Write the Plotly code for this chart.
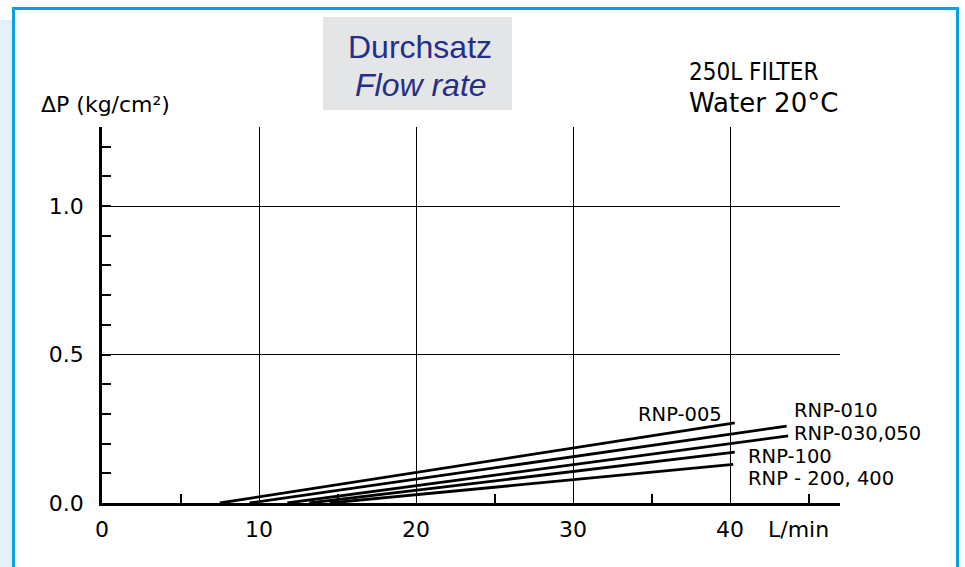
import plotly.graph_objects as go

# ---- data ----
series_names = ["RNP-005", "RNP-010", "RNP-030,050", "RNP-100", "RNP - 200, 400"]
x_start = [7.5, 9.4, 11.8, 13.2, 14.5]
x_end = [40.3, 43.6, 43.7, 40.3, 40.2]
y_start = [0.0, 0.0, 0.0, 0.0, 0.0]
y_end = [0.27, 0.259, 0.226, 0.171, 0.13]

x_ticks = [0, 10, 20, 30, 40]
x_minor = [5, 15, 25, 35, 45]
y_ticks = [0.0, 0.5, 1.0]
y_tick_labels = ["0.0", "0.5", "1.0"]
y_minor = [round(0.1 * i, 1) for i in range(1, 13)]

W, H = 965, 567
L, R, T, B = 102, 125, 127, 64
FONT = "DejaVu Sans"


def px(x):
    return (x - L) / (W - L - R)


def py(y):
    return (H - B - y) / (H - T - B)


fig = go.Figure()
for name, xs, xe, ys, ye in zip(series_names, x_start, x_end, y_start, y_end):
    fig.add_trace(go.Scatter(x=[xs, xe], y=[ys, ye], mode="lines", name=name,
                             line=dict(color="black", width=2.8),
                             showlegend=False, hoverinfo="skip"))

fig.update_layout(
    width=W, height=H,
    margin=dict(l=L, r=R, t=T, b=B),
    paper_bgcolor="white", plot_bgcolor="white",
    font=dict(family=FONT, size=22, color="black"),
    showlegend=False,
)

fig.update_xaxes(
    range=[0, 47], tickvals=x_ticks, ticktext=[str(v) for v in x_ticks],
    showline=True, linecolor="black", linewidth=2.5,
    showgrid=True, gridcolor="black", gridwidth=1,
    ticks="", zeroline=False, ticklabelstandoff=5,
    tickfont=dict(family=FONT, size=22, color="black"),
    minor=dict(tickvals=x_minor, ticks="inside", ticklen=9, tickwidth=2,
               tickcolor="black", showgrid=False),
)
fig.update_yaxes(
    range=[0, 1.266], tickvals=y_ticks, ticktext=y_tick_labels,
    showline=True, linecolor="black", linewidth=2.5,
    showgrid=True, gridcolor="black", gridwidth=1,
    ticks="", zeroline=False, ticklabelstandoff=11,
    tickfont=dict(family=FONT, size=22, color="black"),
    minor=dict(tickvals=y_minor, ticks="inside", ticklen=9, tickwidth=2,
               tickcolor="black", showgrid=False),
)

# ---- frame / decoration ----
blue = "#0aa0e2"
shapes = [
    dict(type="rect", xref="paper", yref="paper", x0=px(0), x1=px(12), y0=py(567), y1=py(20),
         fillcolor="#e2f1fa", line=dict(width=0), layer="below"),
    dict(type="line", xref="paper", yref="paper", x0=px(12), x1=px(958), y0=py(8.5), y1=py(8.5),
         line=dict(color=blue, width=3)),
    dict(type="line", xref="paper", yref="paper", x0=px(13.5), x1=px(13.5), y0=py(7), y1=py(567),
         line=dict(color=blue, width=3)),
    dict(type="line", xref="paper", yref="paper", x0=px(957.5), x1=px(957.5), y0=py(7), y1=py(567),
         line=dict(color=blue, width=3)),
    dict(type="rect", xref="paper", yref="paper", x0=px(323), x1=px(512), y0=py(110), y1=py(17),
         fillcolor="#e4e5e7", line=dict(width=0), layer="below"),
]
fig.update_layout(shapes=shapes)


def ann(text, x, y, size=21, anchor="left", family=FONT, color="black"):
    fig.add_annotation(text=text, xref="paper", yref="paper", x=px(x), y=py(y),
                       xanchor=anchor, yanchor="middle", showarrow=False,
                       font=dict(family=family, size=size, color=color))


ann("ΔP (kg/cm²)", 39, 105, size=22)
ann("L/min", 798, 529, size=22, anchor="center")
ann("Durchsatz", 420, 47, size=32, anchor="center", family="Liberation Sans", color="#252f86")
ann("<i>Flow rate</i>", 421, 85, size=32, anchor="center", family="Liberation Sans", color="#252f86")
ann("250L FILTER", 687, 72, size=24, family="Liberation Sans Narrow, DejaVu Sans Condensed, Liberation Sans")
ann("Water 20°C", 687, 103, size=26)

label_pos = [(724, 414, "right"), (792, 410, "left"), (792, 433, "left"),
             (746, 456, "left"), (746, 478, "left")]
for name, (lx, ly, a) in zip(series_names, label_pos):
    ann(name, lx, ly, size=19.5, anchor=a)

fig.write_html("out.html", config={"displayModeBar": False},
               post_script="document.body.style.margin='0px';")
